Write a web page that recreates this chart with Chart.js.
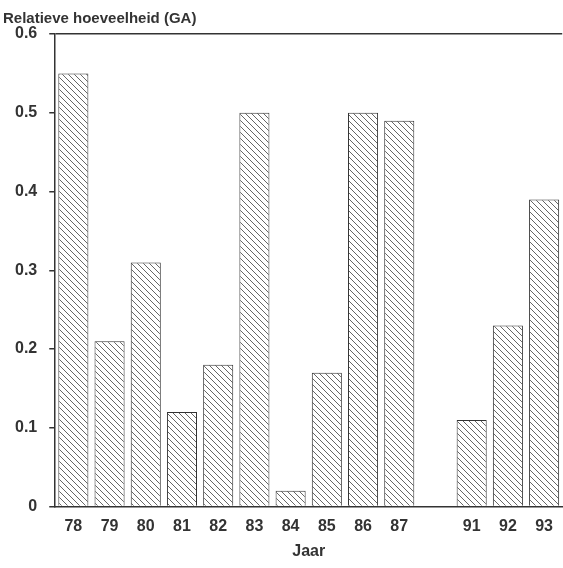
<!DOCTYPE html>
<html>
<head>
    <meta charset="UTF-8">
    <title>Relatieve hoeveelheid (GA)</title>
    <script src="https://cdn.jsdelivr.net/npm/chart.js@4.4.0/dist/chart.umd.min.js"></script>
    <style>
        body { margin: 0; background: #fff; }
        canvas { display: block; }
    </style>
</head>
<body>
<canvas id="gaChart" width="563" height="568"></canvas>

<script>
    // Years (88-90 missing, one empty slot in the original)
    var years = ['78', '79', '80', '81', '82', '83', '84', '85', '86', '87', '', '91', '92', '93'];
    var amounts = [0.55, 0.21, 0.31, 0.12, 0.18, 0.50, 0.02, 0.17, 0.50, 0.49, null, 0.11, 0.23, 0.39];
    var yTicks = [0, 0.1, 0.2, 0.3, 0.4, 0.5, 0.6];

    var ink = '#333';
    var fontFamily = '"Liberation Sans", Arial, sans-serif';

    // Diagonal hatching fill
    function makeHatch() {
        var size = 6;
        var c = document.createElement('canvas');
        c.width = size;
        c.height = size;
        var g = c.getContext('2d');
        g.fillStyle = '#fff';
        g.fillRect(0, 0, size, size);
        g.strokeStyle = '#666';
        g.lineWidth = 1;
        g.beginPath();
        g.moveTo(-1, -1);
        g.lineTo(size + 1, size + 1);
        g.moveTo(-1, size - 1);
        g.lineTo(1, size + 1);
        g.moveTo(size - 1, -1);
        g.lineTo(size + 1, 1);
        g.stroke();
        return g.createPattern(c, 'repeat');
    }

    var ctx = document.getElementById('gaChart').getContext('2d');
    var gaChart = new Chart(ctx, {
        type: 'bar',
        data: {
            labels: years,
            datasets: [{
                data: amounts,
                backgroundColor: makeHatch(),
                borderColor: ink,
                borderWidth: 1,
                categoryPercentage: 1,
                barPercentage: 0.83
            }]
        },
        options: {
            responsive: false,
            animation: false,
            layout: { padding: { left: 3, right: 0, top: 8, bottom: 7 } },
            plugins: {
                legend: { display: false },
                tooltip: { enabled: false },
                title: {
                    display: true,
                    text: 'Relatieve hoeveelheid (GA)',
                    align: 'start',
                    color: ink,
                    font: { family: fontFamily, size: 15, weight: 'bold' },
                    padding: { top: 2, bottom: 6 }
                }
            },
            scales: {
                x: {
                    grid: { display: false, drawTicks: false },
                    border: { display: true, color: ink, width: 1.5 },
                    ticks: {
                        color: ink,
                        padding: 10,
                        maxRotation: 0,
                        autoSkip: false,
                        font: { family: fontFamily, size: 16, weight: 'bold' }
                    },
                    title: {
                        display: true,
                        text: 'Jaar',
                        color: ink,
                        font: { family: fontFamily, size: 16, weight: 'bold' },
                        padding: { top: -4, bottom: 0 }
                    }
                },
                y: {
                    min: 0,
                    max: 0.6,
                    afterBuildTicks: function(axis) {
                        axis.ticks = yTicks.map(function(v) { return { value: v }; });
                    },
                    grid: {
                        color: function(c) { return c.tick && c.tick.value === 0.6 ? ink : 'rgba(0,0,0,0)'; },
                        lineWidth: 1.5,
                        tickColor: ink,
                        tickLength: 6
                    },
                    border: { display: true, color: ink, width: 1.5 },
                    ticks: {
                        color: ink,
                        padding: 12,
                        font: { family: fontFamily, size: 16, weight: 'bold' },
                        callback: function(v) { return v === 0 ? '0' : v.toFixed(1); }
                    }
                }
            }
        }
    });
</script>
</body>
</html>
